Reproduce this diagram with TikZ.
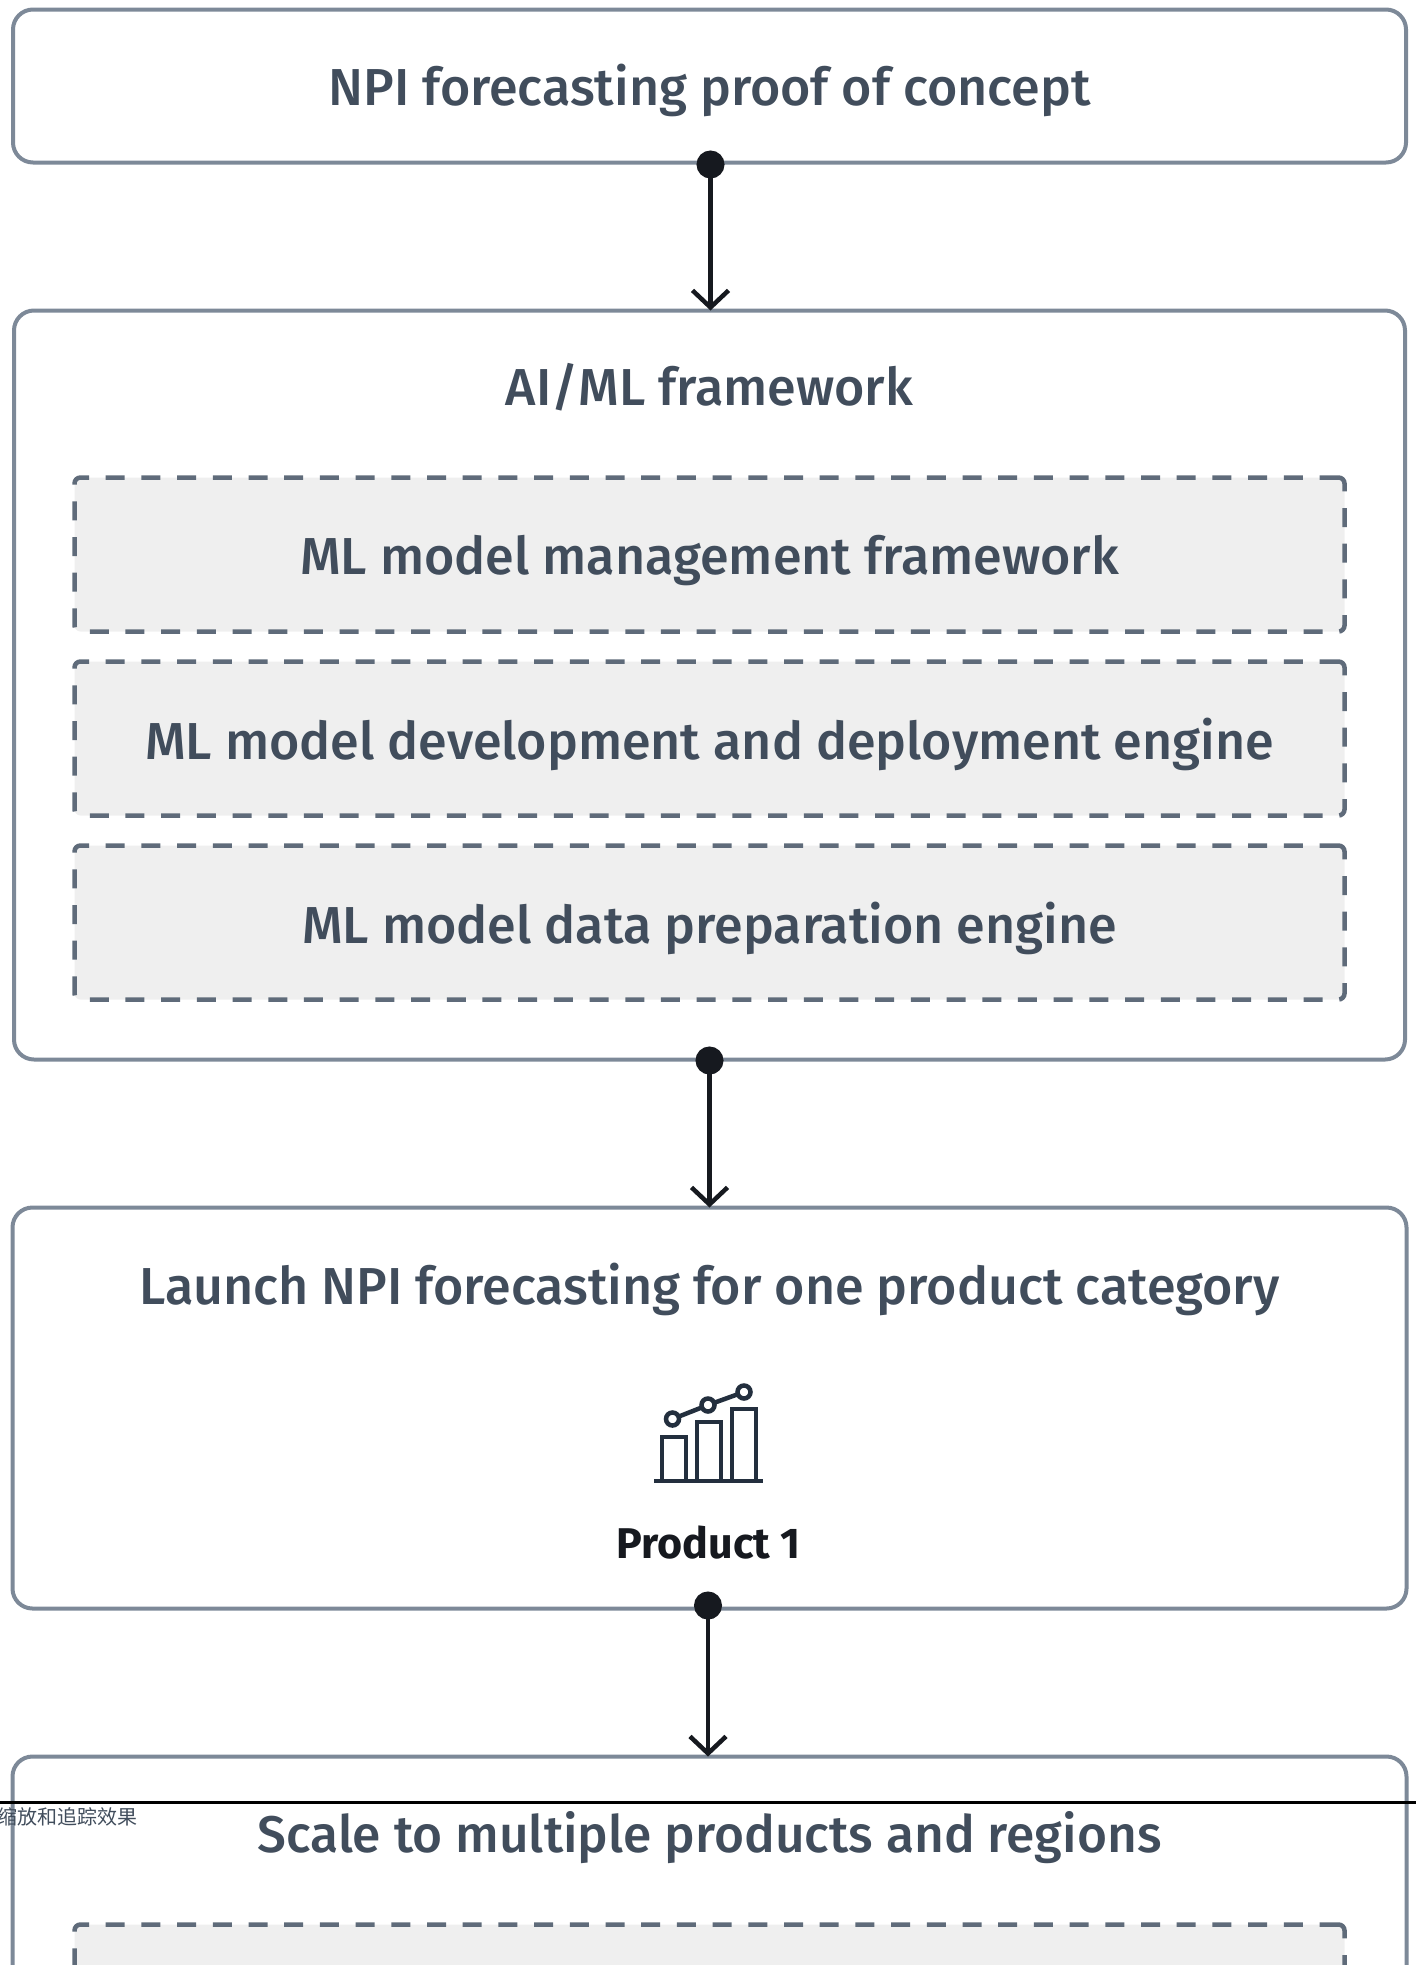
\documentclass[tikz,border=0pt]{standalone}
\usepackage{fontspec}
\setmainfont{Fira Sans Medium}[BoldFont={Fira Sans Bold}]
\newfontfamily\cjk{Noto Sans CJK SC}
\usetikzlibrary{positioning,arrows.meta}

\definecolor{boxline}{HTML}{7D8998}
\definecolor{dashline}{HTML}{5F6B7A}
\definecolor{dashfill}{HTML}{EFEFEF}
\definecolor{titletext}{HTML}{414D5C}
\definecolor{icondark}{HTML}{232F3E}
\definecolor{linktip}{HTML}{16191F}

\tikzset{
    stagebox/.style={draw=boxline,line width=4pt,rounded corners=20pt,outer sep=0pt,inner sep=0pt,minimum width=#1},
    enginebox/.style={draw=dashline,fill=dashfill,line width=4.5pt,rounded corners=6pt,dash pattern=on 19pt off 16.7pt,outer sep=0pt,minimum width=1270pt,minimum height=154pt,text=titletext,font=\fontsize{52}{60}\selectfont},
    title/.style={text=titletext,font=\fontsize{52}{60}\selectfont,inner sep=0pt,outer sep=0pt},
    link/.style={draw=linktip,line width=4.5pt,shorten <=-12pt,{Circle[length=28pt,width=28pt]}-{Straight Barb[length=17pt,width=36pt,line width=4.5pt]}},
    bar/.style={draw=icondark,line width=4.5pt,minimum width=24pt,anchor=south,outer sep=0pt},
    dot/.style={draw=icondark,line width=4.5pt,circle,minimum size=13pt,inner sep=0pt,outer sep=0pt},
}

\begin{document}
\begin{tikzpicture}[x=1pt,y=-1pt,node distance=30pt]
    \useasboundingbox (0,0) rectangle (1416,1965);
    \clip (0,0) rectangle (1416,1965);
    \node[stagebox=1393pt,minimum height=153pt] (poc) at (709.5,86) {};
    \node[title,yshift=-4pt] at (poc.center) {NPI forecasting proof of concept};

    \node[stagebox=1391pt,minimum height=749pt,below=148pt of poc.south,anchor=north] (framework) at (poc.south) {};
    \node[title,below=77pt of framework.north,anchor=center] (frameworktitle) {AI/ML framework};
    \node[enginebox,below=167pt of framework.north,anchor=north,text depth=0pt] (management) {ML model management framework};
    \node[enginebox,below=of management,text depth=0pt] (development) {ML model development and deployment engine};
    \node[enginebox,below=of development,text depth=0pt] (preparation) {ML model data preparation engine};

    \node[stagebox=1394pt,minimum height=401pt,below=148pt of framework.south,anchor=north] (launch) {};
    \node[title,below=82pt of launch.north,anchor=center] (launchtitle) {Launch NPI forecasting for one product category};
    \node[inner sep=0pt,below=335pt of launch.north,anchor=center,xshift=-1pt,text=linktip,font=\fontsize{43}{50}\selectfont\bfseries] (product) {Product 1};

    % icon
    \node[bar,minimum height=44pt] (bara) at (674,1481) {};
    \node[bar,minimum height=59pt,right=11pt of bara.south east,anchor=south west] (barb) {};
    \node[bar,minimum height=72pt,right=11pt of barb.south east,anchor=south west] (barc) {};
    \node[dot] (dota) at (672.5,1419) {};
    \node[dot] (dotb) at (708,1405) {};
    \node[dot] (dotc) at (744,1392) {};
    \draw[icondark,line width=4.5pt] (dota) -- (dotb);
    \draw[icondark,line width=4.5pt] (dotb) -- (dotc);
    \coordinate (basea) at (654,1481);
    \coordinate (baseb) at (763,1481);
    \draw[icondark,line width=4.5pt] (basea) -- (baseb);

    \node[stagebox=1394pt,minimum height=700pt,below=148pt of launch.south,anchor=north] (scale) {};
    \node[title,below=81pt of scale.north,anchor=center,font=\fontsize{51.5}{60}\selectfont] (scaletitle) {Scale to multiple products and regions};
    \node[enginebox,below=168pt of scale.north,anchor=north] (region) {};

    \draw[link] ([xshift=1pt]poc.south) -- ([xshift=1pt]framework.north);
    \draw[link,shorten <=-13pt] (framework.south) -- (launch.north);
    \draw[link,shorten <=-17pt] ([xshift=-1.5pt]launch.south) -- ([xshift=-1.5pt]scale.north);

    % overlay rule
    \coordinate (rulea) at (0,1802);
    \coordinate (ruleb) at (1416,1802);
    \draw[black,line width=3pt] (rulea) -- (ruleb);
    \node[anchor=east,inner sep=0pt,text=titletext,font=\cjk\fontsize{20}{24}\selectfont] (caption) at (138,1817) {缩放和追踪效果};
\end{tikzpicture}
\end{document}
